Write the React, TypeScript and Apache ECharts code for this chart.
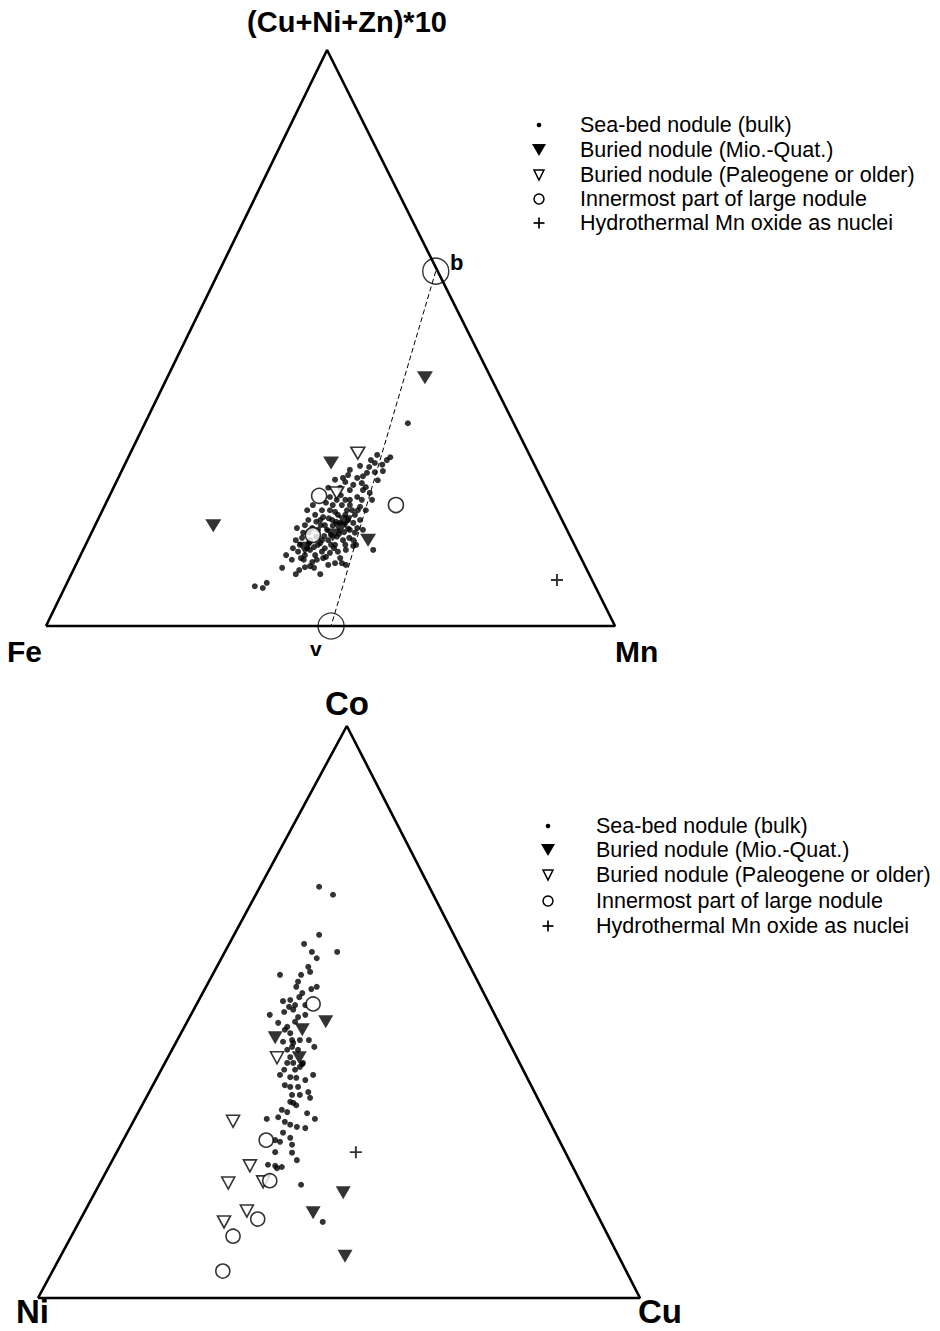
import React, { useEffect, useRef } from "react";
import * as echarts from "echarts";

// ---- Data (normalised diagram coordinates: x 0..100 along base, y 0..100 up to apex) ----
const TOP_FRAME = [[0, 0], [100, 0], [49.4, 100], [0, 0]];
const BOT_FRAME = [[0, 0], [100, 0], [51.3, 100], [0, 0]];
const TOP_TIE_LINE = [[68.5, 61.6], [50.1, 0]];
const TOP_ENDMEMBERS = [[68.5, 61.6], [50.1, 0]];

const LEGEND_NAMES = [
  "Sea-bed nodule (bulk)",
  "Buried nodule (Mio.-Quat.)",
  "Buried nodule (Paleogene or older)",
  "Innermost part of large nodule",
  "Hydrothermal Mn oxide as nuclei",
];

const TOP_SEABED = [
  [36.7, 6.9], [38.1, 6.6], [38.8, 7.5], [41.5, 10.1], [43.9, 9.0], [44.5, 9.7], [45.5, 10.2], [46.4, 10.4],
  [47.1, 10.1], [52.0, 10.9], [52.7, 10.6], [63.6, 35.2], [59.9, 28.8], [59.1, 28.0], [57.8, 28.3], [59.2, 26.9],
  [57.8, 26.7], [56.4, 26.6], [55.7, 26.0], [53.1, 26.2], [52.2, 25.7], [55.5, 24.8], [54.0, 24.5], [53.4, 23.6],
  [55.7, 23.6], [56.9, 23.1], [54.7, 22.4], [53.4, 21.9], [55.2, 20.7], [52.9, 20.1], [49.9, 20.1], [48.7, 18.9],
  [57.5, 13.2], [54.0, 13.9], [54.0, 14.9], [54.3, 16.2], [58.2, 29.7], [57.1, 28.8], [45.5, 17.5], [45.2, 16.2],
  [46.4, 14.9], [48.2, 14.4], [49.9, 12.7], [48.7, 11.8], [47.6, 11.5], [51.1, 15.5], [51.7, 17.9], [53.1, 18.4],
  [54.0, 17.9], [52.2, 14.9], [44.6, 14.1], [44.3, 12.9], [46.4, 13.2], [47.3, 12.3], [49.0, 13.5], [49.6, 14.9],
  [50.8, 14.1], [51.3, 12.9], [52.6, 14.1], [53.4, 16.7], [50.3, 18.4], [49.0, 17.5], [47.8, 16.7], [46.8, 17.0],
  [46.1, 18.4], [47.3, 19.3], [48.2, 18.4], [49.4, 16.7], [50.8, 19.8], [52.0, 21.0], [52.6, 21.9], [51.3, 19.3],
  [54.3, 19.3], [55.2, 18.4], [53.8, 20.1], [47.8, 14.1], [45.5, 12.3], [46.8, 11.1], [48.5, 12.9], [50.1, 14.1],
  [45.0, 15.3], [44.1, 17.0], [45.9, 20.1], [46.9, 21.0], [49.2, 21.4], [49.9, 22.4], [51.7, 24.0], [52.6, 25.0],
  [50.8, 25.4], [49.6, 24.0], [55.5, 21.9], [56.2, 24.1], [54.7, 25.7], [53.4, 27.1], [55.2, 27.8], [60.5, 29.3],
  [44.8, 11.8], [46.2, 14.4], [47.5, 15.5], [48.9, 15.6], [50.4, 17.4], [52.4, 16.3], [53.3, 15.3], [54.7, 17.0],
  [42.2, 12.3], [43.2, 11.5], [51.7, 11.8], [50.8, 10.9], [49.6, 10.6], [48.2, 9.0],
  [48.3, 17.5], [49.7, 18.7], [51.0, 18.1], [52.6, 19.3], [53.1, 16.9], [51.5, 16.0], [50.1, 15.8], [48.5, 14.9],
  [47.1, 13.7], [45.9, 13.5], [49.2, 12.0], [50.6, 13.5], [52.7, 13.2], [54.5, 14.1], [55.7, 16.7], [54.8, 20.1],
  [53.4, 21.0], [51.1, 21.9], [48.5, 20.1], [47.5, 18.1], [46.2, 16.3], [43.9, 14.9], [43.4, 13.5], [45.3, 11.5],
  [56.2, 20.1], [57.3, 21.9], [58.3, 25.3], [56.8, 27.6], [51.8, 22.7], [50.4, 21.0],
];
const TOP_BURIED_MQ = [[29.4, 17.4], [50.1, 28.3], [66.6, 43.1], [56.6, 14.9], [45.5, 13.5], [52.6, 18.1], [50.4, 15.8], [51.7, 17.0]];
const TOP_BURIED_PG = [[54.8, 30.0], [51.1, 23.1]];
const TOP_INNERMOST = [[48.0, 22.6], [61.5, 21.0], [46.9, 15.8]];
const TOP_HYDRO = [[89.8, 8.0]];

const BOT_SEABED = [
  [46.7, 71.9], [49.0, 70.5], [46.7, 63.5], [44.2, 61.9], [45.5, 60.5], [49.7, 60.5], [46.3, 59.4], [44.9, 57.9],
  [45.2, 57.0], [40.2, 56.5], [43.7, 56.5], [43.2, 55.3], [42.9, 54.4], [45.4, 54.0], [46.3, 54.4], [43.9, 53.3],
  [43.4, 52.6], [40.7, 51.9], [41.9, 52.1], [41.7, 50.9], [42.4, 50.4], [38.5, 49.5], [43.2, 49.1], [44.4, 49.5],
  [39.9, 48.1], [42.7, 48.3], [41.4, 47.4], [41.9, 46.3], [45.9, 43.9], [40.7, 44.8], [42.4, 44.6], [43.2, 43.4],
  [41.9, 42.1], [43.9, 40.9], [42.4, 41.1], [38.0, 31.3], [39.9, 31.6], [41.4, 32.5], [44.7, 32.3], [46.0, 31.3],
  [44.4, 29.7], [41.0, 30.8], [41.9, 30.3], [43.0, 29.9], [40.7, 28.9], [41.9, 28.0], [39.4, 27.6], [40.2, 27.3],
  [42.2, 26.8], [39.4, 25.5], [42.2, 25.4], [43.0, 24.1], [38.2, 23.3], [39.4, 23.1], [40.5, 22.9], [39.7, 22.7],
  [41.9, 34.3], [42.4, 34.1], [42.2, 35.5], [44.9, 36.0], [45.2, 35.0], [41.9, 36.9], [43.2, 36.9], [40.2, 39.0],
  [41.9, 38.6], [45.7, 39.0], [43.5, 40.4], [41.4, 41.1], [44.0, 41.1], [43.7, 19.8], [47.3, 13.3], [41.0, 46.9],
  [42.2, 45.1], [43.5, 45.1], [41.4, 43.4], [42.7, 39.9], [40.9, 39.9], [44.4, 38.1], [41.0, 37.2], [43.5, 35.5],
  [42.9, 33.7], [40.5, 32.9], [44.4, 51.2], [42.7, 51.2], [40.9, 50.0], [42.2, 43.9], [45.0, 45.1], [42.9, 38.5],
];
const BOT_BURIED_MQ = [[47.8, 48.3], [43.9, 46.9], [39.4, 45.5], [43.4, 42.0], [50.7, 18.4], [45.7, 14.9], [51.0, 7.3]];
const BOT_BURIED_PG = [[39.7, 42.0], [32.4, 30.9], [35.2, 23.1], [31.6, 20.1], [37.4, 20.3], [34.7, 15.2], [30.9, 13.3]];
const BOT_INNERMOST = [[45.7, 51.4], [37.9, 27.6], [38.5, 20.5], [36.5, 13.8], [32.4, 10.8], [30.7, 4.7]];
const BOT_HYDRO = [[52.8, 25.5]];

const FONT = '"Liberation Sans", Arial, Helvetica, sans-serif';
const PLUS = "path://M4.2,0H5.8V4.2H10V5.8H5.8V10H4.2V5.8H0V4.2H4.2Z";

function seriesFor(g: number, frame: number[][], sets: number[][][], triSize: number[], circ: number) {
  const [seabed, mq, pg, inner, hydro] = sets;
  const base = { xAxisIndex: g, yAxisIndex: g };
  return [
    {
      ...base, type: "line", data: frame, symbol: "none", silent: true, z: 1,
      lineStyle: { color: "#000", width: 2.6 }, clip: false,
    },
    {
      ...base, type: "scatter", name: LEGEND_NAMES[0], data: seabed, symbol: "circle", symbolSize: 6,
      itemStyle: { color: "#000" }, z: 3,
    },
    {
      ...base, type: "scatter", name: LEGEND_NAMES[1], data: mq, symbol: "triangle", symbolRotate: 180,
      symbolSize: triSize, itemStyle: { color: "#000" }, z: 5,
    },
    {
      ...base, type: "scatter", name: LEGEND_NAMES[2], data: pg, symbol: "triangle", symbolRotate: 180,
      symbolSize: [triSize[0] - 2, triSize[1] - 1], itemStyle: { color: "#fff", borderColor: "#000", borderWidth: 1.6 }, z: 4,
    },
    {
      ...base, type: "scatter", name: LEGEND_NAMES[3], data: inner, symbol: "circle", symbolSize: circ,
      itemStyle: { color: "#fff", borderColor: "#000", borderWidth: 1.6 }, z: 4,
    },
    {
      ...base, type: "scatter", name: LEGEND_NAMES[4], data: hydro, symbol: PLUS, symbolSize: 12,
      itemStyle: { color: "#000" }, z: 5,
    },
  ];
}

function legendGraphic(symX: number, textX: number, ys: number[], fs: number) {
  const els: any[] = [];
  const [y0, y1, y2, y3, y4] = ys;
  els.push({ type: "circle", shape: { cx: symX, cy: y0, r: 2.3 }, style: { fill: "#000" } });
  els.push({ type: "polygon", shape: { points: [[symX - 7, y1 - 6], [symX + 7, y1 - 6], [symX, y1 + 6]] }, style: { fill: "#000" } });
  els.push({ type: "polygon", shape: { points: [[symX - 5, y2 - 5], [symX + 5, y2 - 5], [symX, y2 + 5]] }, style: { fill: "none", stroke: "#000", lineWidth: 1.5 } });
  els.push({ type: "circle", shape: { cx: symX, cy: y3, r: 5 }, style: { fill: "none", stroke: "#000", lineWidth: 1.5 } });
  els.push({ type: "line", shape: { x1: symX - 5.5, y1: y4, x2: symX + 5.5, y2: y4 }, style: { stroke: "#000", lineWidth: 1.7 } });
  els.push({ type: "line", shape: { x1: symX, y1: y4 - 5.5, x2: symX, y2: y4 + 5.5 }, style: { stroke: "#000", lineWidth: 1.7 } });
  ys.forEach((y, i) => {
    els.push({
      type: "text", x: textX, y,
      style: { text: LEGEND_NAMES[i], fill: "#000", fontSize: fs, fontFamily: FONT, verticalAlign: "middle", align: "left" },
    });
  });
  return els;
}

function label(text: string, x: number, y: number, size: number, align: string = "left") {
  return {
    type: "text", x, y,
    style: { text, fill: "#000", fontSize: size, fontWeight: "bold", fontFamily: FONT, verticalAlign: "middle", align },
  };
}

export default function App() {
  const ref = useRef<HTMLDivElement>(null);
  useEffect(() => {
    const chart = echarts.init(ref.current!, null, { renderer: "svg" });
    const axisCommon = { type: "value", min: 0, max: 100, show: false, splitLine: { show: false } };
    const option: any = {
      animation: false,
      backgroundColor: "#fff",
      grid: [
        { left: 46, top: 50, width: 569, height: 576 },
        { left: 38, top: 726, width: 602, height: 572 },
      ],
      xAxis: [{ ...axisCommon, gridIndex: 0 }, { ...axisCommon, gridIndex: 1 }],
      yAxis: [{ ...axisCommon, gridIndex: 0 }, { ...axisCommon, gridIndex: 1 }],
      series: [
        ...seriesFor(0, TOP_FRAME, [TOP_SEABED, TOP_BURIED_MQ, TOP_BURIED_PG, TOP_INNERMOST, TOP_HYDRO], [16, 13], 15),
        {
          xAxisIndex: 0, yAxisIndex: 0, type: "line", data: TOP_TIE_LINE, symbol: "none", z: 2,
          lineStyle: { color: "#000", width: 1, type: [5, 3] },
        },
        {
          xAxisIndex: 0, yAxisIndex: 0, type: "scatter", data: TOP_ENDMEMBERS, symbol: "circle", symbolSize: 26, z: 2,
          itemStyle: { color: "none", borderColor: "#000", borderWidth: 1.4 },
        },
        ...seriesFor(1, BOT_FRAME, [BOT_SEABED, BOT_BURIED_MQ, BOT_BURIED_PG, BOT_INNERMOST, BOT_HYDRO], [15, 13], 14),
      ],
      graphic: [
        label("(Cu+Ni+Zn)*10", 347, 22, 29, "center"),
        label("Fe", 7, 651, 30),
        label("Mn", 615, 651, 30),
        label("v", 310, 648, 21),
        label("b", 450, 262, 22),
        label("Co", 347, 703, 33, "center"),
        label("Ni", 16, 1311, 33),
        label("Cu", 638, 1311, 33),
        ...legendGraphic(539, 580, [125, 150, 175, 199, 223], 21.5),
        ...legendGraphic(548, 596, [826, 850, 875, 901, 926], 21.5),
      ],
    };
    chart.setOption(option);
    return () => chart.dispose();
  }, []);
  return (
    <div
      ref={ref}
      style={{ position: "absolute", left: 0, top: 0, width: 940, height: 1331, background: "#fff" }}
    />
  );
}
